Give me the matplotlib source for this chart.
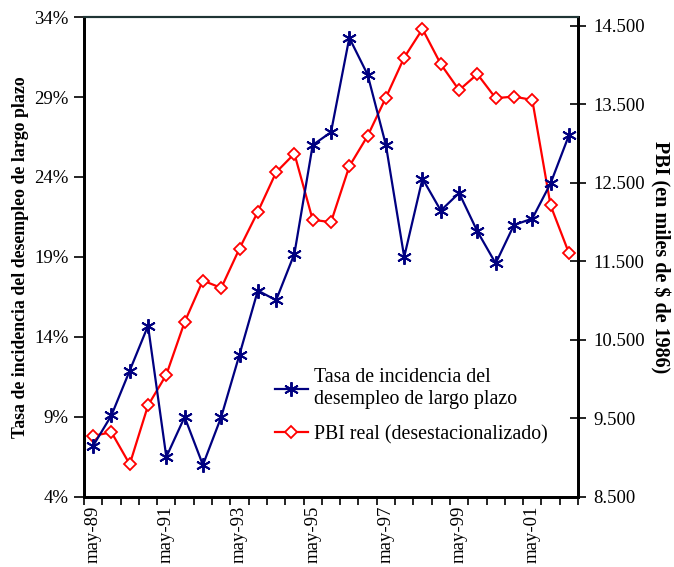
import numpy as np
import matplotlib.pyplot as plt
from matplotlib.ticker import FixedLocator, FuncFormatter

plt.rcParams['font.family'] = ['Liberation Serif', 'DejaVu Serif']

# semestral periods, may-89 ... may-02
periods = ['may-89', 'nov-89', 'may-90', 'nov-90', 'may-91', 'nov-91', 'may-92',
           'nov-92', 'may-93', 'nov-93', 'may-94', 'nov-94', 'may-95', 'nov-95',
           'may-96', 'nov-96', 'may-97', 'nov-97', 'may-98', 'nov-98', 'may-99',
           'nov-99', 'may-00', 'nov-00', 'may-01', 'nov-01', 'may-02']

# long-term unemployment incidence rate (%)
tasa = [7.2, 9.1, 11.9, 14.7, 6.5, 9.0, 6.0, 9.0, 12.9, 16.9, 16.3, 19.2, 26.0, 26.8,
        32.7, 30.4, 26.0, 19.0, 23.9, 21.9, 23.0, 20.6, 18.6, 21.0, 21.4, 23.6, 26.6]

# real GDP, seasonally adjusted (millions of 1986 $)
pbi = [9278, 9324, 8916, 9665, 10056, 10727, 11255, 11161, 11663, 12130, 12633,
       12870, 12028, 11999, 12709, 13096, 13584, 14094, 14457, 14010, 13679, 13883,
       13577, 13597, 13554, 12212, 11607]

left_ticks = [4, 9, 14, 19, 24, 29, 34]
right_ticks = [8500, 9500, 10500, 11500, 12500, 13500, 14500]

fig = plt.figure(figsize=(6.74, 5.67), dpi=100)
ax = fig.add_axes([0.1246, 0.1235, 0.733, 0.8465])
ax2 = ax.twinx()

x = np.arange(len(periods))

l1, = ax.plot(x, tasa, color='#000080', lw=1.6, marker=(6, 2, 0), ms=10.5, mew=1.4,
              label='Tasa de incidencia del\ndesempleo de largo plazo')
l2, = ax2.plot(x, pbi, color='#ff0000', lw=1.6, marker='D', ms=6.5, mew=1.3,
               mfc='white', label='PBI real (desestacionalizado)')
ax.set_zorder(ax2.get_zorder() + 1)
ax.patch.set_visible(False)

ax.set_xlim(-0.5, len(periods) - 0.5)
ax.set_ylim(4, 34)
ax2.set_ylim(8500, 14610)

ax.set_yticks(left_ticks)
ax.yaxis.set_major_formatter(FuncFormatter(lambda v, p: '%d%%' % v))
ax2.set_yticks(right_ticks)
ax2.yaxis.set_major_formatter(FuncFormatter(lambda v, p: '{:,.0f}'.format(v).replace(',', '.')))

ax.set_xticks(x[::4])
ax.set_xticklabels(periods[::4], rotation=90)
ax.xaxis.set_minor_locator(FixedLocator(np.arange(-0.5, len(periods), 1.0)))
ax.tick_params(axis='x', which='major', length=0, labelsize=13.5, pad=6)
ax.tick_params(axis='x', which='minor', length=6, width=1.2, direction='out')
ax.tick_params(axis='y', length=7, width=1.2, direction='out', labelsize=13.5, pad=4)
ax2.tick_params(axis='y', length=12, width=1.2, direction='inout', labelsize=13.5, pad=5)

for a in (ax, ax2):
    for s in ('left', 'right', 'bottom'):
        a.spines[s].set_linewidth(2)
        a.spines[s].set_color('black')
    a.spines['top'].set_linewidth(1.5)
    a.spines['top'].set_color('#1f3535')

ax.set_ylabel('Tasa de incidencia del desempleo de largo plazo', fontsize=12.8,
              fontweight='bold', labelpad=4)
ax2.set_ylabel('PBI (en miles de $ de 1986)', fontsize=14.5, fontweight='bold',
               rotation=-90, labelpad=18)

ax.legend(handles=[l1, l2], frameon=False, fontsize=14.3, loc='upper left',
          bbox_to_anchor=(0.393, 0.368), bbox_transform=fig.transFigure,
          handlelength=1.65, handletextpad=0.3, labelspacing=0.8, borderpad=0)

fig.savefig('out.png', dpi=100)
